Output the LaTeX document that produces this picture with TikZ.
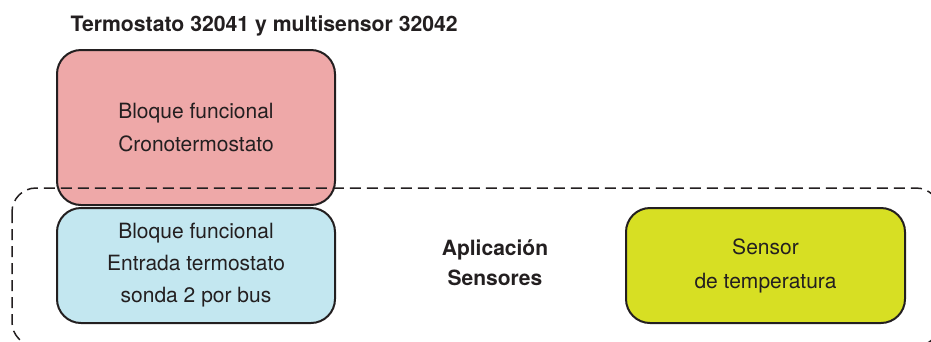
\documentclass[tikz,border=0pt]{standalone}
\usepackage{fontspec}
\setmainfont{TeX Gyre Heros}
\definecolor{inkdark}{HTML}{231F20}
\definecolor{fillred}{HTML}{EEA8A8}
\definecolor{fillblue}{HTML}{C3E7F0}
\definecolor{fillgreen}{HTML}{D7DF23}
\tikzset{
  fblock/.style={draw=inkdark, line width=2pt, rounded corners=24pt, align=center,
    text=inkdark, font=\fontsize{21}{33}\selectfont, inner sep=0pt},
  apparea/.style={draw=inkdark, line width=1.5pt, dash pattern=on 11pt off 6pt, rounded corners=24pt}
}

\begin{document}
\begin{tikzpicture}[x=1pt, y=-1pt]
    \useasboundingbox (0,0) rectangle (931,341);
    \clip (0,0) rectangle (931,341);
    \node[anchor=base west, text=inkdark, font=\fontsize{21.2}{24}\selectfont\bfseries] (title) at (67,31) {Termostato 32041 y multisensor 32042};
    \node[fblock, fill=fillred, minimum width=278pt, minimum height=155pt] (crono) at (196,127.5) {Bloque funcional\\Cronotermostato};
    \node[fblock, fill=fillblue, minimum width=278pt, minimum height=115pt] (entrada) at (196,265.5) {Bloque funcional\\[-1pt]Entrada termostato\\[-1pt]sonda 2 por bus};
    \node[fblock, fill=fillgreen, minimum width=279pt, minimum height=115pt] (sensor) at (765.5,265.5) {Sensor\\[1pt]de temperatura};
    \draw[apparea] (12,188) rectangle (940,346);
    \node[align=center, text=inkdark, font=\fontsize{21}{30}\selectfont\bfseries] (aplic) at (495,263) {Aplicación\\Sensores};
  \end{tikzpicture}
\end{document}
